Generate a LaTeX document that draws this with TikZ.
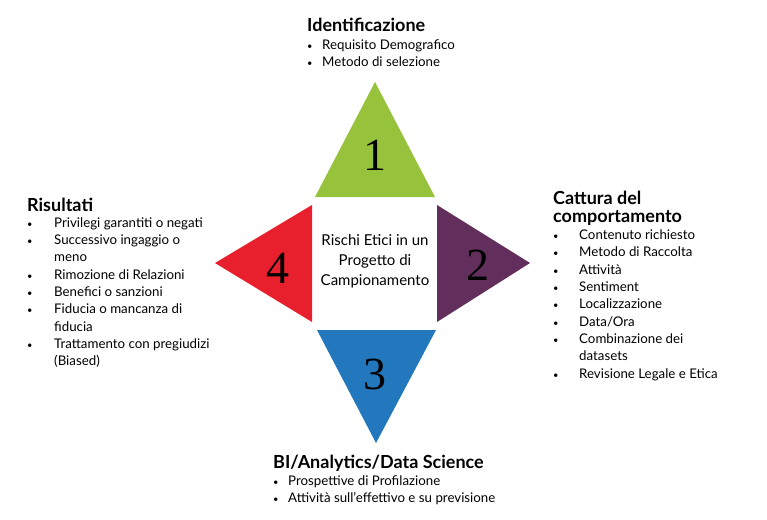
\documentclass[tikz,border=0pt]{standalone}
\usepackage{fontspec}
\setmainfont{Lato}
\newfontfamily\cifre{Liberation Serif}
\usepackage{array}
\usetikzlibrary{positioning}

\definecolor{verde}{HTML}{97C23C}
\definecolor{viola}{HTML}{622F5C}
\definecolor{blu}{HTML}{2277BD}
\definecolor{rosso}{HTML}{E8202D}

\newcommand{\titolo}[1]{\multicolumn{2}{@{}l@{}}{\fontsize{18}{20}\selectfont\bfseries #1}}
\newcommand{\pallino}{\scalebox{0.7}{\textbullet}}

\tikzset{
  blocco/.style={inner sep=0pt, anchor=base west, font=\fontsize{13.3}{17.3}\selectfont},
  numero/.style={font=\cifre\fontsize{46}{46}\selectfont},
}

\begin{document}
\begin{tikzpicture}[x=1pt, y=-1pt]
      \useasboundingbox (0,0) rectangle (767,519);

      \coordinate (A) at (375,82);
      \coordinate (B) at (530,263);
      \coordinate (C) at (376,443);
      \coordinate (D) at (215,263);

      % triangoli
      \fill[verde] (315,197) -- (435,197) -- (A) -- cycle;
      \fill[viola] (437,205) -- (437,322) -- (B) -- cycle;
      \fill[blu] (317,330) -- (436,330) -- (C) -- cycle;
      \fill[rosso] (312,205) -- (312,322) -- (D) -- cycle;

      \node[numero] (n1) at (375,155) {1};
      \node[numero] (n2) at (478,265) {2};
      \node[numero] (n3) at (375,374) {3};
      \node[numero] (n4) at (278,268) {4};

      \node[align=center, font=\fontsize{15}{20}\selectfont] (centro) at (375,261)
        {Rischi Etici in un\\Progetto di\\Campionamento};

      \node[blocco] (ident) at (307,32) {\begin{tabular}[t]{@{}p{15pt}@{}l@{}}
        \titolo{Identificazione}\\[0pt]
        \pallino & Requisito Demografico\\
        \pallino & Metodo di selezione
      \end{tabular}};

      \node[blocco] (cattura) at (553,204) {\begin{tabular}[t]{@{}p{26pt}@{}l@{}}
        \titolo{Cattura del}\\[1pt]
        \titolo{comportamento}\\[0pt]
        \pallino & Contenuto richiesto\\
        \pallino & Metodo di Raccolta\\
        \pallino & Attività\\
        \pallino & Sentiment\\
        \pallino & Localizzazione\\
        \pallino & Data/Ora\\
        \pallino & Combinazione dei\\
                 & datasets\\
        \pallino & Revisione Legale e Etica
      \end{tabular}};

      \node[blocco] (bi) at (273,468) {\begin{tabular}[t]{@{}p{15pt}@{}l@{}}
        \titolo{BI/Analytics/Data Science}\\[0pt]
        \pallino & Prospettive di Profilazione\\
        \pallino & Attività sull’effettivo e su previsione
      \end{tabular}};

      \node[blocco] (risultati) at (27,211) {\begin{tabular}[t]{@{}p{27pt}@{}l@{}}
        \titolo{Risultati}\\[-1pt]
        \pallino & Privilegi garantiti o negati\\
        \pallino & Successivo ingaggio o\\
                 & meno\\
        \pallino & Rimozione di Relazioni\\
        \pallino & Benefici o sanzioni\\
        \pallino & Fiducia o mancanza di\\
                 & fiducia\\
        \pallino & Trattamento con pregiudizi\\
                 & (Biased)
      \end{tabular}};

    \end{tikzpicture}
\end{document}
